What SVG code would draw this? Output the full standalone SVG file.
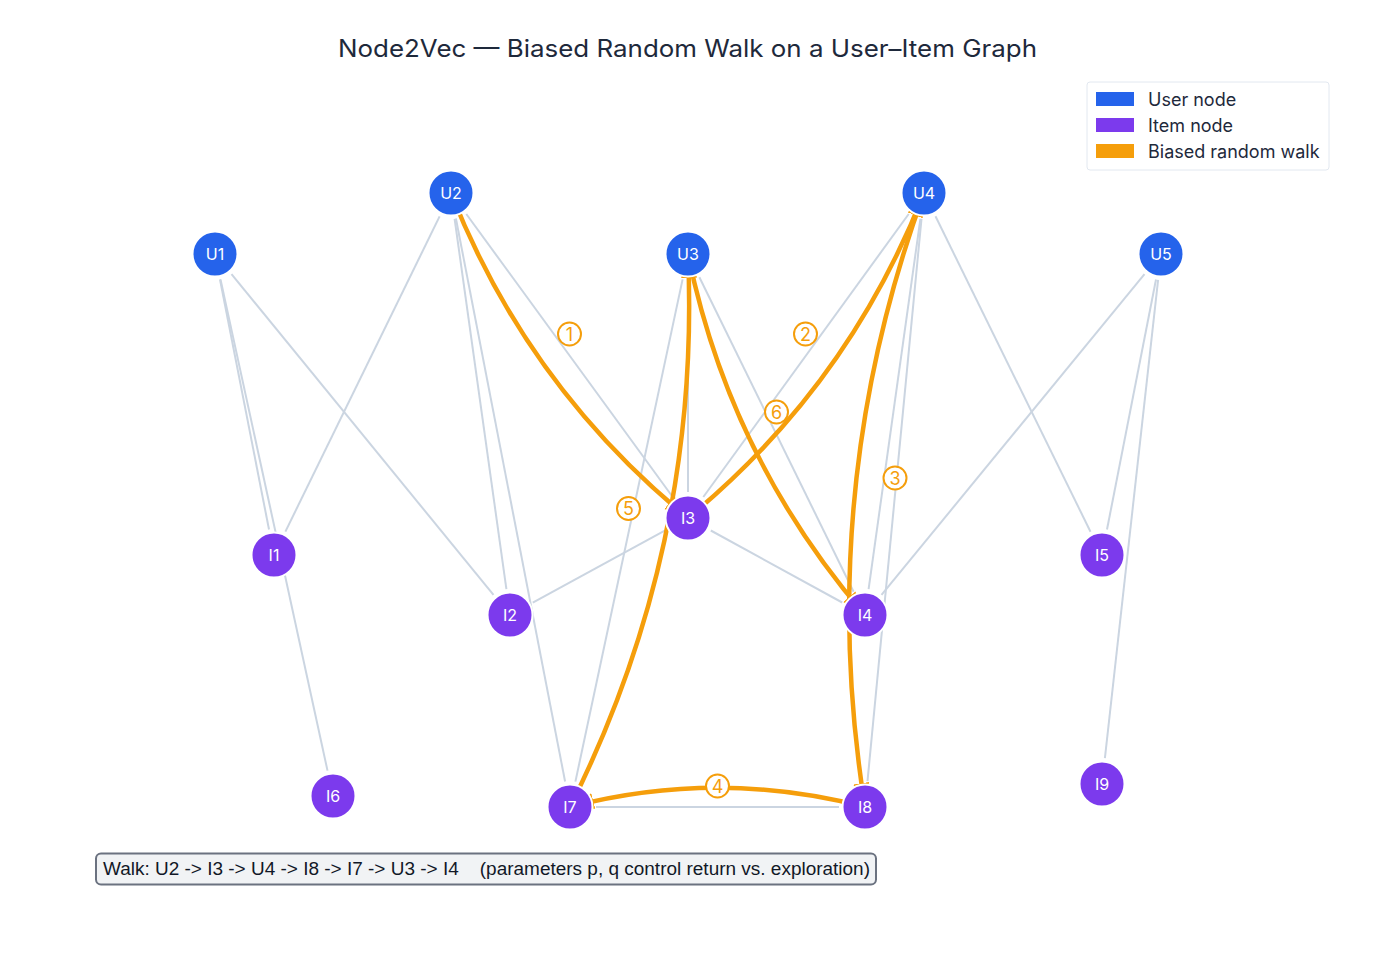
<svg xmlns="http://www.w3.org/2000/svg" width="1375" height="954" viewBox="0 0 1375 954">
<style>
  .edge { stroke: #cbd5e1; stroke-width: 2; fill: none; }
  .walk { stroke: #f59e0b; stroke-width: 4.5; fill: none; marker-end: url(#arrow); }
  .user { fill: #2563eb; stroke: #ffffff; stroke-width: 2; }
  .item { fill: #7c3aed; stroke: #ffffff; stroke-width: 2; }
  .nlabel { fill: #ffffff; font-family: Inter, "Liberation Sans", Arial, sans-serif; font-size: 16px; text-anchor: middle; }
  .step circle { fill: #ffffff; stroke: #f59e0b; stroke-width: 2; }
  .step text { fill: #f59e0b; font-family: Inter, "Liberation Sans", Arial, sans-serif; font-size: 18px; text-anchor: middle; }
  .legtext { fill: #1e293b; font-family: Inter, "Liberation Sans", Arial, sans-serif; font-size: 18px; }
</style>
<defs>
  <marker id="arrow" markerUnits="userSpaceOnUse" markerWidth="26" markerHeight="18" refX="24" refY="9" orient="auto">
    <path d="M0,1 L24,9 L0,17 Z" fill="#f59e0b"/>
  </marker>
</defs>
<rect width="1375" height="954" fill="#ffffff"/>
<text x="687.5" y="57" text-anchor="middle" font-family="Inter, Liberation Sans, Arial, sans-serif" font-size="24" fill="#1e293b" textLength="699" lengthAdjust="spacingAndGlyphs">Node2Vec — Biased Random Walk on a User–Item Graph</text>

<g id="legend">
  <rect x="1087" y="82" width="242" height="88" rx="3" fill="#ffffff" stroke="#e2e8f0" stroke-width="1"/>
  <rect x="1096" y="92" width="38" height="14" fill="#2563eb"/>
  <text class="legtext" x="1148" y="105.5">User node</text>
  <rect x="1096" y="118" width="38" height="14" fill="#7c3aed"/>
  <text class="legtext" x="1148" y="131.5">Item node</text>
  <rect x="1096" y="144" width="38" height="14" fill="#f59e0b"/>
  <text class="legtext" x="1148" y="157.5">Biased random walk</text>
</g>

<g id="connectors">
  <line class="edge" x1="220.0" y1="279.5" x2="269.0" y2="529.5"/>
  <line class="edge" x1="220.5" y1="279.4" x2="327.5" y2="770.6"/>
  <line class="edge" x1="231.5" y1="274.1" x2="493.5" y2="594.9"/>
  <line class="edge" x1="439.6" y1="216.4" x2="285.4" y2="531.6"/>
  <line class="edge" x1="454.6" y1="218.8" x2="506.4" y2="589.2"/>
  <line class="edge" x1="455.9" y1="218.5" x2="565.1" y2="781.5"/>
  <line class="edge" x1="466.3" y1="214.0" x2="672.7" y2="497.0"/>
  <line class="edge" x1="688" y1="280" x2="688" y2="492"/>
  <line class="edge" x1="682.6" y1="279.4" x2="575.4" y2="781.6"/>
  <line class="edge" x1="699.4" y1="277.3" x2="853.6" y2="591.7"/>
  <line class="edge" x1="908.7" y1="214.0" x2="703.3" y2="497.0"/>
  <line class="edge" x1="920.4" y1="218.8" x2="868.6" y2="589.2"/>
  <line class="edge" x1="921.5" y1="218.9" x2="867.5" y2="781.1"/>
  <line class="edge" x1="935.5" y1="216.3" x2="1090.5" y2="531.7"/>
  <line class="edge" x1="1144.5" y1="274.1" x2="881.5" y2="594.9"/>
  <line class="edge" x1="1156.0" y1="279.5" x2="1107.0" y2="529.5"/>
  <line class="edge" x1="1158.1" y1="279.8" x2="1104.9" y2="758.2"/>
  <line class="edge" x1="665.2" y1="530.4" x2="532.8" y2="602.6"/>
  <line class="edge" x1="710.8" y1="530.5" x2="842.2" y2="602.5"/>
  <line class="edge" x1="596" y1="807" x2="839" y2="807"/>

  <path class="walk" d="M451,193 Q527.2,386.3 688,518"/>
  <path class="walk" d="M688,518 Q848.2,386.2 924,193"/>
  <path class="walk" d="M924,193 Q814.7,492.3 865,807"/>
  <path class="walk" d="M865,807 Q717.5,768.65 570,807"/>
  <path class="walk" d="M570,807 Q700.9,545.8 688,254"/>
  <path class="walk" d="M688,254 Q729.5,457.5 865,615"/>

  <g class="step"><circle cx="569.5" cy="334" r="11.5"/><text x="569.5" y="340.5">1</text></g>
  <g class="step"><circle cx="805.5" cy="334" r="11.5"/><text x="805.5" y="340.5">2</text></g>
  <g class="step"><circle cx="895" cy="478" r="11.5"/><text x="895" y="484.5">3</text></g>
  <g class="step"><circle cx="717.5" cy="786" r="11.5"/><text x="717.5" y="792.5">4</text></g>
  <g class="step"><circle cx="628.5" cy="508.5" r="11.5"/><text x="628.5" y="515">5</text></g>
  <g class="step"><circle cx="776.5" cy="412" r="11.5"/><text x="776.5" y="418.5">6</text></g>
</g>

<g id="U1"><circle class="user" cx="215" cy="254" r="22.5"/><text class="nlabel" x="215" y="259.5">U1</text></g>
<g id="U2"><circle class="user" cx="451" cy="193" r="22.5"/><text class="nlabel" x="451" y="198.5">U2</text></g>
<g id="U3"><circle class="user" cx="688" cy="254" r="22.5"/><text class="nlabel" x="688" y="259.5">U3</text></g>
<g id="U4"><circle class="user" cx="924" cy="193" r="22.5"/><text class="nlabel" x="924" y="198.5">U4</text></g>
<g id="U5"><circle class="user" cx="1161" cy="254" r="22.5"/><text class="nlabel" x="1161" y="259.5">U5</text></g>
<g id="I1"><circle class="item" cx="274" cy="555" r="22.5"/><text class="nlabel" x="274" y="560.5">I1</text></g>
<g id="I2"><circle class="item" cx="510" cy="615" r="22.5"/><text class="nlabel" x="510" y="620.5">I2</text></g>
<g id="I3"><circle class="item" cx="688" cy="518" r="22.5"/><text class="nlabel" x="688" y="523.5">I3</text></g>
<g id="I4"><circle class="item" cx="865" cy="615" r="22.5"/><text class="nlabel" x="865" y="620.5">I4</text></g>
<g id="I5"><circle class="item" cx="1102" cy="555" r="22.5"/><text class="nlabel" x="1102" y="560.5">I5</text></g>
<g id="I6"><circle class="item" cx="333" cy="796" r="22.5"/><text class="nlabel" x="333" y="801.5">I6</text></g>
<g id="I7"><circle class="item" cx="570" cy="807" r="22.5"/><text class="nlabel" x="570" y="812.5">I7</text></g>
<g id="I8"><circle class="item" cx="865" cy="807" r="22.5"/><text class="nlabel" x="865" y="812.5">I8</text></g>
<g id="I9"><circle class="item" cx="1102" cy="784" r="22.5"/><text class="nlabel" x="1102" y="789.5">I9</text></g>

<g id="caption">
  <rect x="96" y="853.5" width="780" height="31" rx="5" fill="#f1f3f5" stroke="#6b7280" stroke-width="2"/>
  <text x="103" y="875" font-family="Liberation Sans, Arial, sans-serif" font-size="17.5" fill="#111827" style="white-space:pre" textLength="767" lengthAdjust="spacingAndGlyphs">Walk: U2 -&gt; I3 -&gt; U4 -&gt; I8 -&gt; I7 -&gt; U3 -&gt; I4    (parameters p, q control return vs. exploration)</text>
</g>
</svg>
